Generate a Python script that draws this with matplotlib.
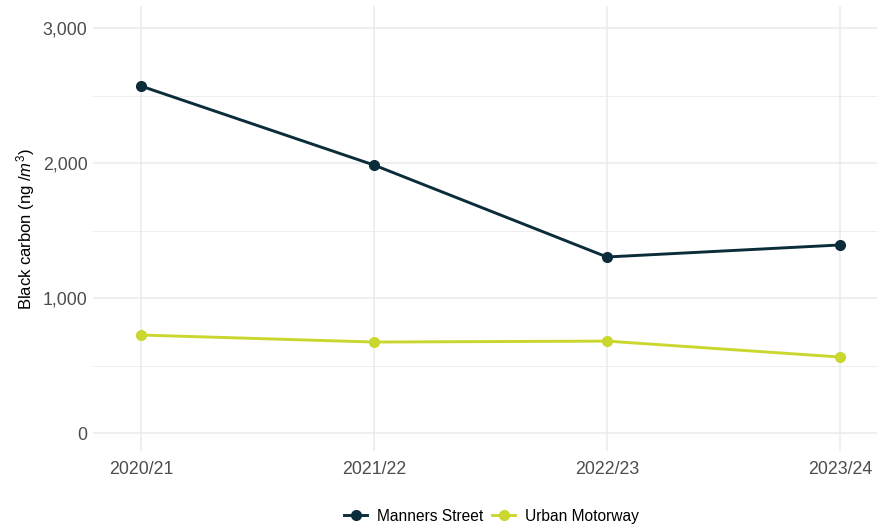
import matplotlib
matplotlib.use("Agg")
import matplotlib.pyplot as plt
from matplotlib.ticker import FuncFormatter, MultipleLocator

plt.rcParams['font.family'] = ['Liberation Sans', 'DejaVu Sans']
plt.rcParams['mathtext.fontset'] = 'custom'
plt.rcParams['mathtext.rm'] = 'Liberation Sans'
plt.rcParams['mathtext.it'] = 'Liberation Sans:italic'

years = ['2020/21', '2021/22', '2022/23', '2023/24']
manners_street = [2570, 1985, 1304, 1393]
urban_motorway = [726, 674, 681, 563]

navy = '#0b2c3a'
lime = '#c9d72e'
grid_col = '#ebebeb'
text_col = '#4d4d4d'

fig = plt.figure(figsize=(8.78, 5.27), dpi=100)
ax = fig.add_axes([93 / 878, 76 / 527, 784 / 878, 445 / 527])

x = range(len(years))
ax.plot(x, manners_street, color=navy, lw=2.1, marker='o', ms=7, label='Manners Street', zorder=3)
ax.plot(x, urban_motorway, color=lime, lw=2.1, marker='o', ms=7, label='Urban Motorway', zorder=3)

ax.set_xlim(-0.206, 3.159)
ax.set_ylim(-133, 3163)
ax.set_xticks(list(x))
ax.set_xticklabels(years)
ax.yaxis.set_major_locator(MultipleLocator(1000))
ax.yaxis.set_minor_locator(MultipleLocator(500))
ax.yaxis.set_major_formatter(FuncFormatter(lambda v, p: f'{int(v):,}'))

ax.grid(True, which='major', color=grid_col, lw=1.1)
ax.grid(True, which='minor', axis='y', color=grid_col, lw=0.6)
ax.set_axisbelow(True)
for s in ax.spines.values():
    s.set_visible(False)
ax.tick_params(which='both', length=0, labelsize=12.8, colors=text_col, pad=4)
ax.tick_params(axis='x', pad=7)

ax.set_ylabel(r'Black carbon (ng $/m^3$)', fontsize=12, color='black', labelpad=4)

ax.legend(loc='lower center', bbox_to_anchor=(0.508, -0.195), ncol=2, frameon=False,
          fontsize=11.2, handlelength=1.5, columnspacing=0.6, handletextpad=0.6)

fig.savefig('out.png', dpi=100)
